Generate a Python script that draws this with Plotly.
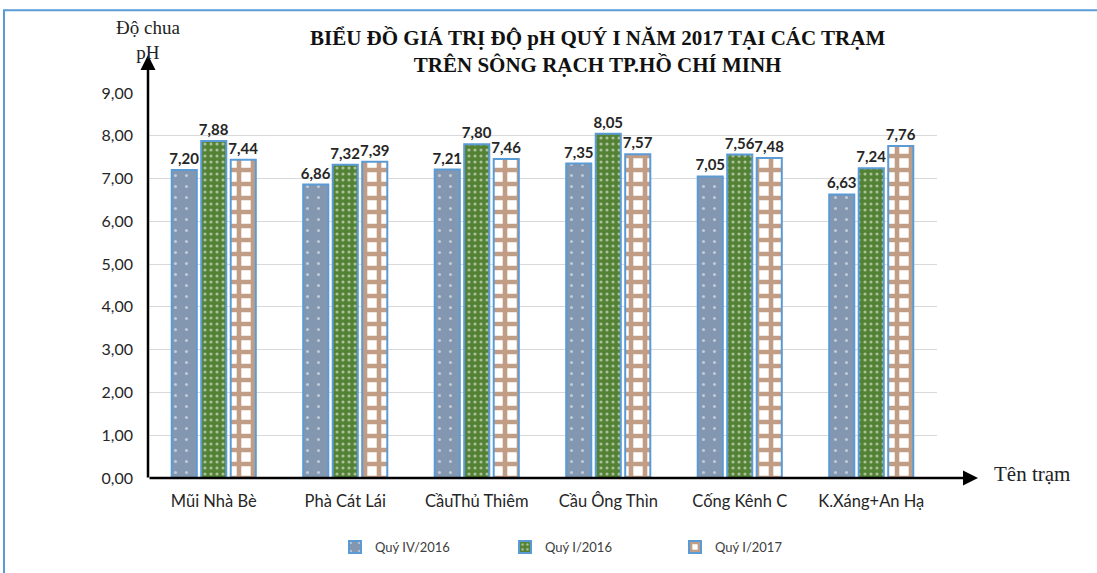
import plotly.graph_objects as go

categories = ["Mũi Nhà Bè", "Phà Cát Lái", "CầuThủ Thiêm", "Cầu Ông Thìn", "Cống Kênh C", "K.Xáng+An Hạ"]
q4_2016 = [7.20, 6.86, 7.21, 7.35, 7.05, 6.63]
q1_2016 = [7.88, 7.32, 7.80, 8.05, 7.56, 7.24]
q1_2017 = [7.44, 7.39, 7.46, 7.57, 7.48, 7.76]
series_names = ["Quý IV/2016", "Quý I/2016", "Quý I/2017"]
y_ticks = [0, 1, 2, 3, 4, 5, 6, 7, 8, 9]

W, H = 1097, 573
ML, MR, MT, MB = 148, 160, 93, 94
PW, PH = W - ML - MR, H - MT - MB

def px_x(px):
    return (px - ML) / PW

def px_y(py):
    return (H - MB - py) / PH

tick_font = "Lato, Carlito, 'Liberation Sans', sans-serif"
serif = "'Liberation Serif', 'DejaVu Serif', serif"

styles = [
    dict(bg="#8497B0", fg="#FFFFFF", shape=".", size=11, solidity=0.06),
    dict(bg="#548235", fg="#FFFFFF", shape=".", size=6, solidity=0.22),
    dict(bg="#FFFFFF", fg="#843C0C", shape="+", size=14, solidity=0.55),
]

fig = go.Figure()
for name, vals, st in zip(series_names, [q4_2016, q1_2016, q1_2017], styles):
    fig.add_trace(go.Bar(
        x=categories, y=vals, name=name,
        marker=dict(
            color=st["bg"],
            line=dict(color="#5B9BD5", width=2),
            pattern=dict(shape=st["shape"], fgcolor=st["fg"], bgcolor=st["bg"],
                         size=st["size"], solidity=st["solidity"], fillmode="overlay"),
        ),
        texttemplate="%{y:.2f}", textposition="outside", constraintext="none",
        textfont=dict(family=tick_font, size=15, color="#262626", weight="bold"),
        cliponaxis=False,
    ))

fig.update_layout(
    width=W, height=H,
    margin=dict(l=ML, r=MR, t=MT, b=MB),
    paper_bgcolor="white", plot_bgcolor="white",
    separators=",.",
    barmode="group", bargap=0.327, bargroupgap=0.15,
    showlegend=True,
    legend=dict(orientation="h", x=px_x(590), xanchor="center", y=px_y(547), yanchor="middle",
                font=dict(family=tick_font, size=13, color="#404040"),
                entrywidth=125, entrywidthmode="pixels", itemwidth=30),
    xaxis=dict(showgrid=False, showline=False, ticks="", zeroline=False,
               ticklabelstandoff=11,
               tickfont=dict(family=tick_font, size=16.5, color="#262626")),
    yaxis=dict(range=[0, 9], tickvals=y_ticks, tickformat=".2f",
               showgrid=True, gridcolor="#D9D9D9", gridwidth=1,
               zeroline=False, showline=False, ticks="", ticklabelstandoff=14,
               tickfont=dict(family=tick_font, size=16, color="#262626")),
)

# axis arrows
fig.add_annotation(xref="paper", yref="paper", x=0, y=px_y(55), ax=0, ay=H - MB - 55,
                   axref="pixel", ayref="pixel", showarrow=True, arrowhead=2,
                   arrowsize=1.2, arrowwidth=2.5, arrowcolor="black", text="")
fig.add_annotation(xref="paper", yref="paper", x=px_x(978), y=0, ax=-(978 - ML), ay=0,
                   axref="pixel", ayref="pixel", showarrow=True, arrowhead=2,
                   arrowsize=1.2, arrowwidth=2.5, arrowcolor="black", text="")

# title
fig.add_annotation(xref="paper", yref="paper", x=px_x(597), y=px_y(51), showarrow=False,
                   xanchor="center", yanchor="middle",
                   text="BIỂU ĐỒ GIÁ TRỊ ĐỘ pH QUÝ I NĂM 2017 TẠI CÁC TRẠM<br>TRÊN SÔNG RẠCH TP.HỒ CHÍ MINH",
                   font=dict(family=serif, size=21, color="#111111", weight="bold"),
                   align="center")
# axis titles
fig.add_annotation(xref="paper", yref="paper", x=0, y=px_y(40), showarrow=False,
                   xanchor="center", yanchor="middle",
                   text="Độ chua<br>pH", font=dict(family=serif, size=19, color="#222222"),
                   align="center")
fig.add_annotation(xref="paper", yref="paper", x=px_x(1032), y=px_y(475), showarrow=False,
                   xanchor="center", yanchor="middle",
                   text="Tên trạm", font=dict(family=serif, size=21, color="#222222"))

# outer border
fig.add_shape(type="rect", xref="paper", yref="paper",
              x0=px_x(4), x1=px_x(1200), y0=px_y(700), y1=px_y(10),
              line=dict(color="#5B9BD5", width=2), fillcolor="rgba(0,0,0,0)", layer="below")

fig.write_html("out.html", config={"displayModeBar": False},
               post_script="document.body.style.margin='0';")
